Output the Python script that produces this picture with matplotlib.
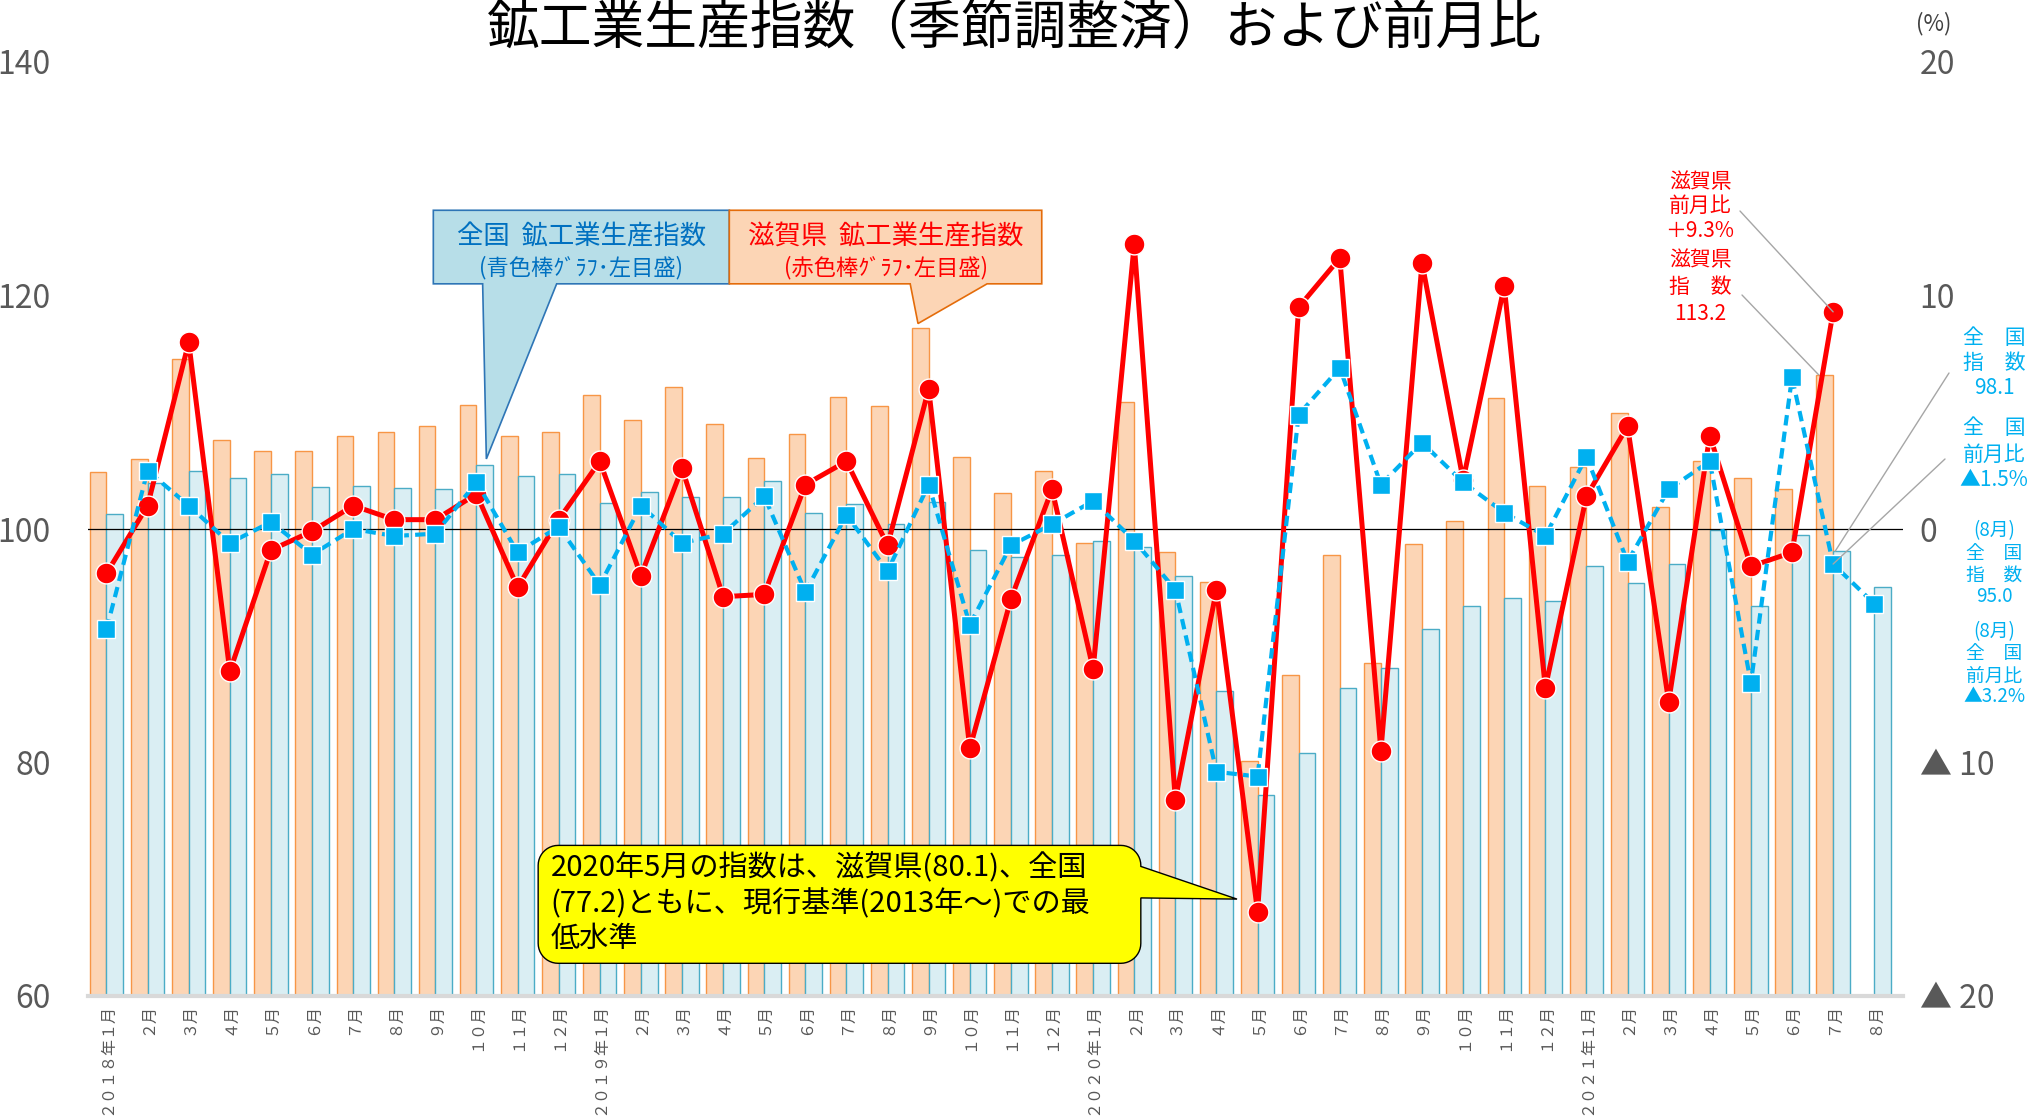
import numpy as np
import matplotlib
matplotlib.use('Agg')
import matplotlib.pyplot as plt
from matplotlib.patches import Polygon

plt.rcParams['font.family'] = ['Noto Sans CJK JP', 'DejaVu Sans']

nan = np.nan

# ---------------- data ----------------
months = ['２０１８年１月', '２月', '３月', '４月', '５月', '６月', '７月', '８月', '９月', '１０月', '１１月', '１２月',
          '２０１９年１月', '２月', '３月', '４月', '５月', '６月', '７月', '８月', '９月', '１０月', '１１月', '１２月',
          '２０２０年１月', '２月', '３月', '４月', '５月', '６月', '７月', '８月', '９月', '１０月', '１１月', '１２月',
          '２０２１年１月', '２月', '３月', '４月', '５月', '６月', '７月', '８月']

shiga_index = [104.9, 106.0, 114.6, 107.6, 106.7, 106.7, 108.0, 108.3, 108.8, 110.6, 108.0, 108.3,
               111.5, 109.3, 112.2, 109.0, 106.1, 108.1, 111.3, 110.5, 117.2, 106.2, 103.1, 105.0,
               98.8, 110.9, 98.0, 95.5, 80.1, 87.5, 97.8, 88.5, 98.7, 100.7, 111.2, 103.7,
               105.3, 109.9, 101.9, 105.8, 104.4, 103.4, 113.2, nan]

national_index = [101.3, 103.9, 105.0, 104.4, 104.7, 103.6, 103.7, 103.5, 103.4, 105.5, 104.5, 104.7,
                  102.2, 103.2, 102.7, 102.7, 104.1, 101.4, 102.1, 100.4, 102.3, 98.2, 97.6, 97.8,
                  99.0, 98.5, 96.0, 86.1, 77.2, 80.8, 86.4, 88.1, 91.4, 93.4, 94.1, 93.8,
                  96.8, 95.4, 97.0, 99.9, 93.4, 99.5, 98.1, 95.0]

shiga_mom = [-1.9, 1.0, 8.0, -6.1, -0.9, -0.1, 1.0, 0.4, 0.4, 1.5, -2.5, 0.4,
             2.9, -2.0, 2.6, -2.9, -2.8, 1.9, 2.9, -0.7, 6.0, -9.4, -3.0, 1.7,
             -6.0, 12.2, -11.6, -2.6, -16.4, 9.5, 11.6, -9.5, 11.4, 2.1, 10.4, -6.8,
             1.4, 4.4, -7.4, 4.0, -1.6, -1.0, 9.3, nan]

national_mom = [-4.3, 2.5, 1.0, -0.6, 0.3, -1.1, 0.0, -0.3, -0.2, 2.0, -1.0, 0.1,
                -2.4, 1.0, -0.6, -0.2, 1.4, -2.7, 0.6, -1.8, 1.9, -4.1, -0.7, 0.2,
                1.2, -0.5, -2.6, -10.4, -10.6, 4.9, 6.9, 1.9, 3.7, 2.0, 0.7, -0.3,
                3.1, -1.4, 1.7, 2.9, -6.6, 6.5, -1.5, -3.2]

left_ticks = [60, 80, 100, 120, 140]
right_ticks = [-20, -10, 0, 10, 20]
right_ticklabels = ['▲ 20', '▲ 10', '0', '10', '20']

title = '鉱工業生産指数（季節調整済）および前月比'

# ---------------- figure ----------------
FW, FH = 2035, 1118
fig = plt.figure(figsize=(FW / 100, FH / 100), dpi=100)


def fp(x, y):
    return (x / FW, 1 - y / FH)


L, R, T, B = 88, 1903, 62, 996
ax = fig.add_axes([L / FW, 1 - B / FH, (R - L) / FW, (B - T) / FH])

x = np.arange(len(months))
w = 0.405
ax.bar(x - w / 2, shiga_index, w, color='#FCD5B5', edgecolor='#F79646', lw=1.0, zorder=2)
ax.bar(x + w / 2, national_index, w, color='#DAEEF3', edgecolor='#4BACC6', lw=1.0, zorder=2)
ax.set_xlim(-0.45, 43.7)
ax.set_ylim(60, 140)
ax.set_yticks(left_ticks)
ax.set_yticklabels([str(v) for v in left_ticks])
ax.set_xticks(x)
ax.set_xticklabels(months, rotation=90, fontsize=11.5, color='#595959')
ax.tick_params(axis='x', length=0, pad=5)
ax.tick_params(axis='y', length=0, pad=27, labelsize=23, labelcolor='#595959')
for s in ['top', 'left', 'right']:
    ax.spines[s].set_visible(False)
ax.spines['bottom'].set_color('#D9D9D9')
ax.spines['bottom'].set_linewidth(3)

ax2 = ax.twinx()
ax2.set_ylim(-20, 20)
ax2.set_yticks(right_ticks)
ax2.set_yticklabels(right_ticklabels)
ax2.tick_params(axis='y', length=0, pad=12, labelsize=23, labelcolor='#595959')
for s in ax2.spines.values():
    s.set_visible(False)
ax2.axhline(0, color='black', lw=0.9, zorder=1)

ax2.plot(x, shiga_mom, color='#FF0000', lw=3.6, marker='o', ms=15, mfc='#FF0000',
         mec='white', mew=1, zorder=4)
ax2.plot(x, national_mom, color='#00B0F0', lw=3, ls=(0, (2.5, 1.5)), marker='s', ms=13,
         mfc='#00B0F0', mec='white', mew=1, zorder=5)

# ---------------- callouts ----------------
# blue callout (national)
bx0, bx1, by0, by1 = 7.95, 15.15, 121.0, 127.3
tip_b = (9 + 0.24, national_index[9] + 0.5)
poly_b = [(bx0, by1), (bx1, by1), (bx1, by0), (10.95, by0), tip_b, (9.15, by0), (bx0, by0)]
ax2.add_patch(Polygon(poly_b, closed=True, transform=ax.transData, facecolor='#B7DEE8',
                      edgecolor='#2E75B6', lw=1.2, zorder=10, clip_on=False))
ax2.text((bx0 + bx1) / 2, 125.0, '全国  鉱工業生産指数', transform=ax.transData,
         ha='center', va='center', fontsize=19, color='#0070C0', zorder=11)
ax2.text((bx0 + bx1) / 2, 122.4, '(青色棒ｸﾞﾗﾌ･左目盛)', transform=ax.transData,
         ha='center', va='center', fontsize=16, color='#0070C0', zorder=11)

# orange callout (Shiga)
ox0, ox1 = 15.15, 22.75
tip_o = (19.74, shiga_index[20] + 0.4)
poly_o = [(ox0, by1), (ox1, by1), (ox1, by0), (21.42, by0), tip_o, (19.55, by0), (ox0, by0)]
ax2.add_patch(Polygon(poly_o, closed=True, transform=ax.transData, facecolor='#FCD5B5',
                      edgecolor='#E46C0A', lw=1.2, zorder=10, clip_on=False))
ax2.text((ox0 + ox1) / 2, 125.0, '滋賀県  鉱工業生産指数', transform=ax.transData,
         ha='center', va='center', fontsize=19, color='#FF0000', zorder=11)
ax2.text((ox0 + ox1) / 2, 122.4, '(赤色棒ｸﾞﾗﾌ･左目盛)', transform=ax.transData,
         ha='center', va='center', fontsize=16, color='#FF0000', zorder=11)

# yellow rounded callout
p0 = ax.transData.transform((0, 100))
p1 = ax.transData.transform((1, 101))
pxx, pxy = p1[0] - p0[0], p1[1] - p0[1]
rad = 20
rx, ry = rad / pxx, rad / pxy
yx0, yx1, yy0, yy1 = 10.5, 25.16, 62.8, 72.9
tip_y = (27.5, 68.3)


def arc(cx, cy, a0, a1, n=12):
    t = np.linspace(np.radians(a0), np.radians(a1), n)
    return [(cx + rx * np.cos(a), cy + ry * np.sin(a)) for a in t]


verts = []
verts += arc(yx0 + rx, yy1 - ry, 180, 90)
verts += arc(yx1 - rx, yy1 - ry, 90, 0)
verts += [(yx1, 71.1), tip_y, (yx1, 68.4)]
verts += arc(yx1 - rx, yy0 + ry, 0, -90)
verts += arc(yx0 + rx, yy0 + ry, 270, 180)
ax2.add_patch(Polygon(verts, closed=True, transform=ax.transData, facecolor='#FFFF00',
                      edgecolor='black', lw=1.0, zorder=10, clip_on=False))
ylines = ['2020年5月の指数は、滋賀県(80.1)、全国',
          '(77.2)ともに、現行基準(2013年～)での最',
          '低水準']
for t, yy in zip(ylines, [70.95, 67.86, 64.87]):
    ax2.text(10.8, yy, t, transform=ax.transData, ha='left', va='center',
             fontsize=21, color='black', zorder=11)

# ---------------- title & side texts ----------------
fig.text(*fp(1014, 28), title, ha='center', va='center', fontsize=38, color='black')
fig.text(*fp(1934, 24), '(%)', ha='center', va='center', fontsize=16, color='#404040')


def stack(cx, ys, lines, color, fs):
    for t, yy in zip(lines, ys):
        fig.text(*fp(cx, yy), t, ha='center', va='center', fontsize=fs, color=color)


RED = '#FF0000'
CYAN = '#00B0F0'
stack(1700, [182, 206, 231], ['滋賀県', '前月比', '＋9.3%'], RED, 15)
stack(1700, [260, 287, 314], ['滋賀県', '指　数', '113.2'], RED, 15)
stack(1994, [338, 363, 388], ['全　国', '指　数', '98.1'], CYAN, 15)
stack(1994, [428, 455, 480], ['全　国', '前月比', '▲1.5%'], CYAN, 15)
stack(1994, [531, 553, 575, 596], ['(8月)', '全　国', '指　数', '95.0'], CYAN, 13.5)
stack(1994, [632, 654, 676, 697], ['(8月)', '全　国', '前月比', '▲3.2%'], CYAN, 13.5)

lead = dict(arrowstyle='-', color='#A6A6A6', lw=1, shrinkA=0, shrinkB=0)
ax2.annotate('', xy=(42, shiga_mom[42]), xycoords='data',
             xytext=(1740, FH - 211), textcoords='figure pixels', arrowprops=lead, zorder=12)
ax2.annotate('', xy=(42 - 0.35, shiga_index[42]), xycoords=ax.transData,
             xytext=(1742, FH - 295), textcoords='figure pixels', arrowprops=lead, zorder=12)
ax2.annotate('', xy=(42 + 0.05, national_index[42]), xycoords=ax.transData,
             xytext=(1949, FH - 373), textcoords='figure pixels', arrowprops=lead, zorder=12)
ax2.annotate('', xy=(42, national_mom[42]), xycoords='data',
             xytext=(1945, FH - 459), textcoords='figure pixels', arrowprops=lead, zorder=12)

fig.savefig('out.png', dpi=100)
